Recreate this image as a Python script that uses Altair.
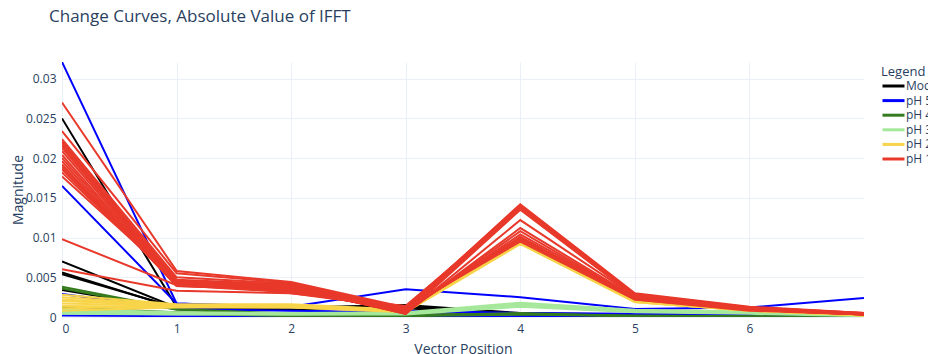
import altair as alt
import pandas as pd

# ---------------- data ----------------
positions = [0, 1, 2, 3, 4, 5, 6, 7]

groups = ["Mock", "pH 5", "pH 4", "pH 3", "pH 2", "pH 1"]
group_colors = ["#000000", "#0000ff", "#367b1f", "#a6e89b", "#f8d44a", "#e8392b"]

mock_curves = [
    [0.0250, 0.0013, 0.0012, 0.0015, 0.0005, 0.0003, 0.0002, 0.0001],
    [0.0070, 0.0012, 0.0011, 0.0014, 0.0004, 0.0003, 0.0002, 0.0001],
    [0.0056, 0.0011, 0.0010, 0.0013, 0.0004, 0.0002, 0.0001, 0.0001],
    [0.0054, 0.0012, 0.0011, 0.0012, 0.0003, 0.0002, 0.0001, 0.0001],
    [0.0034, 0.0010, 0.0009, 0.0011, 0.0003, 0.0002, 0.0001, 0.0000],
]
ph5_curves = [
    [0.0321, 0.0017, 0.0013, 0.0035, 0.0025, 0.0010, 0.0012, 0.0024],
    [0.0165, 0.0017, 0.0012, 0.0008, 0.0005, 0.0004, 0.0003, 0.0002],
    [0.0029, 0.0010, 0.0008, 0.0006, 0.0004, 0.0003, 0.0002, 0.0001],
    [0.0002, 0.0001, 0.0001, 0.0001, 0.0001, 0.0001, 0.0001, 0.0000],
]
ph4_curves = [
    [0.0038, 0.0010, 0.0004, 0.0002, 0.0005, 0.0001, 0.0001, 0.0000],
    [0.0036, 0.0009, 0.0003, 0.0003, 0.0004, 0.0002, 0.0001, 0.0000],
    [0.0012, 0.0006, 0.0002, 0.0002, 0.0004, 0.0001, 0.0000, 0.0000],
    [0.0006, 0.0004, 0.0001, 0.0001, 0.0003, 0.0001, 0.0000, 0.0000],
]
ph3_curves = [
    [0.0010, 0.0006, 0.0005, 0.0006, 0.0018, 0.0009, 0.0007, 0.0003],
    [0.0008, 0.0005, 0.0004, 0.0005, 0.0016, 0.0008, 0.0006, 0.0002],
    [0.0006, 0.0004, 0.0003, 0.0004, 0.0015, 0.0007, 0.0005, 0.0002],
    [0.0004, 0.0003, 0.0003, 0.0003, 0.0013, 0.0006, 0.0004, 0.0001],
]
ph2_curves = [
    [0.0028, 0.0016, 0.0016, 0.0009, 0.0100, 0.0022, 0.0010, 0.0003],
    [0.0025, 0.0015, 0.0015, 0.0008, 0.0098, 0.0021, 0.0009, 0.0003],
    [0.0022, 0.0015, 0.0015, 0.0008, 0.0097, 0.0021, 0.0009, 0.0003],
    [0.0020, 0.0014, 0.0014, 0.0008, 0.0095, 0.0020, 0.0009, 0.0003],
    [0.0017, 0.0014, 0.0013, 0.0007, 0.0094, 0.0020, 0.0008, 0.0003],
    [0.0014, 0.0013, 0.0013, 0.0007, 0.0093, 0.0019, 0.0008, 0.0002],
    [0.0011, 0.0013, 0.0012, 0.0007, 0.0092, 0.0019, 0.0008, 0.0002],
    [0.0008, 0.0012, 0.0012, 0.0006, 0.0092, 0.0019, 0.0008, 0.0002],
]
ph1_curves = [
    [0.0270, 0.0058, 0.0044, 0.0012, 0.0140, 0.0029, 0.0012, 0.0005],
    [0.0234, 0.0055, 0.0043, 0.0010, 0.0142, 0.0030, 0.0013, 0.0005],
    [0.0224, 0.0050, 0.0042, 0.0009, 0.0141, 0.0029, 0.0012, 0.0005],
    [0.0221, 0.0047, 0.0041, 0.0008, 0.0139, 0.0028, 0.0012, 0.0004],
    [0.0219, 0.0045, 0.0040, 0.0007, 0.0138, 0.0028, 0.0011, 0.0004],
    [0.0216, 0.0043, 0.0040, 0.0006, 0.0137, 0.0027, 0.0011, 0.0004],
    [0.0213, 0.0042, 0.0039, 0.0005, 0.0136, 0.0027, 0.0011, 0.0004],
    [0.0209, 0.0041, 0.0038, 0.0004, 0.0135, 0.0026, 0.0010, 0.0004],
    [0.0204, 0.0040, 0.0037, 0.0004, 0.0122, 0.0026, 0.0010, 0.0004],
    [0.0200, 0.0040, 0.0036, 0.0005, 0.0112, 0.0025, 0.0010, 0.0003],
    [0.0196, 0.0039, 0.0035, 0.0006, 0.0108, 0.0024, 0.0010, 0.0003],
    [0.0192, 0.0039, 0.0034, 0.0007, 0.0104, 0.0024, 0.0009, 0.0003],
    [0.0189, 0.0040, 0.0033, 0.0008, 0.0101, 0.0023, 0.0009, 0.0003],
    [0.0186, 0.0042, 0.0032, 0.0009, 0.0099, 0.0023, 0.0009, 0.0003],
    [0.0182, 0.0044, 0.0031, 0.0010, 0.0097, 0.0022, 0.0009, 0.0003],
    [0.0177, 0.0046, 0.0030, 0.0011, 0.0095, 0.0022, 0.0008, 0.0003],
    [0.0098, 0.0040, 0.0031, 0.0013, 0.0138, 0.0027, 0.0011, 0.0004],
    [0.0060, 0.0033, 0.0030, 0.0014, 0.0136, 0.0026, 0.0011, 0.0004],
]

x_ticks = [0, 1, 2, 3, 4, 5, 6]
y_ticks = [0, 0.005, 0.01, 0.015, 0.02, 0.025, 0.03]

all_curves = [mock_curves, ph5_curves, ph4_curves, ph3_curves, ph2_curves, ph1_curves]

# ---------------- build chart ----------------
FONT = "Open Sans"
TXT = "#2a3f5f"

color_scale = alt.Scale(domain=groups, range=group_colors)
x_scale = alt.Scale(domain=[0, 7], nice=False, zero=False)
y_scale = alt.Scale(domain=[0, 0.0321], nice=False, zero=False)

layers = []
for gname, curves in zip(groups, all_curves):
    rows = []
    for i, curve in enumerate(curves):
        for xp, v in zip(positions, curve):
            rows.append({"pos": xp, "mag": v, "group": gname, "series": f"{gname}-{i}"})
    df = pd.DataFrame(rows)
    layer = alt.Chart(df).mark_line(strokeWidth=2, clip=True).encode(
        x=alt.X("pos:Q", scale=x_scale,
                axis=alt.Axis(values=x_ticks, title="Vector Position", format="d",
                              titleY=36, titleBaseline="alphabetic")),
        y=alt.Y("mag:Q", scale=y_scale,
                axis=alt.Axis(values=y_ticks, title="Magnitude", format="~g",
                              titleX=-44, titleAngle=270, titleBaseline="middle")),
        color=alt.Color("group:N", scale=color_scale,
                        legend=alt.Legend(title="Legend", orient="none",
                                          legendX=819, legendY=4)),
        detail="series:N",
    )
    layers.append(layer)

chart = alt.layer(*layers).properties(
    width=802,
    height=255,
    padding={"left": 62, "top": 62, "right": 64, "bottom": 37},
    autosize=alt.AutoSizeParams(type="none"),
    title=alt.Title("Change Curves, Absolute Value of IFFT", anchor="start",
                    frame="group", dx=-13, offset=36, fontSize=17,
                    fontWeight="normal", font=FONT, color=TXT),
    background="white",
).configure_view(
    stroke=None
).configure_axis(
    grid=True, gridColor="#ebf0f8", gridWidth=1,
    domain=False, ticks=False,
    labelFont=FONT, labelFontSize=12, labelColor=TXT, labelPadding=6,
    titleFont=FONT, titleFontSize=14, titleColor=TXT, titleFontWeight="normal",
).configure_legend(
    titleFont=FONT, titleFontSize=13, titleColor=TXT, titleFontWeight="normal",
    titlePadding=0,
    labelFont=FONT, labelFontSize=12, labelColor=TXT,
    symbolType="M-1,0H3", symbolSize=121, symbolStrokeWidth=3,
    rowPadding=1.6, padding=0, labelOffset=11,
)

chart.save("out.html", embed_options={"renderer": "svg", "actions": False})
